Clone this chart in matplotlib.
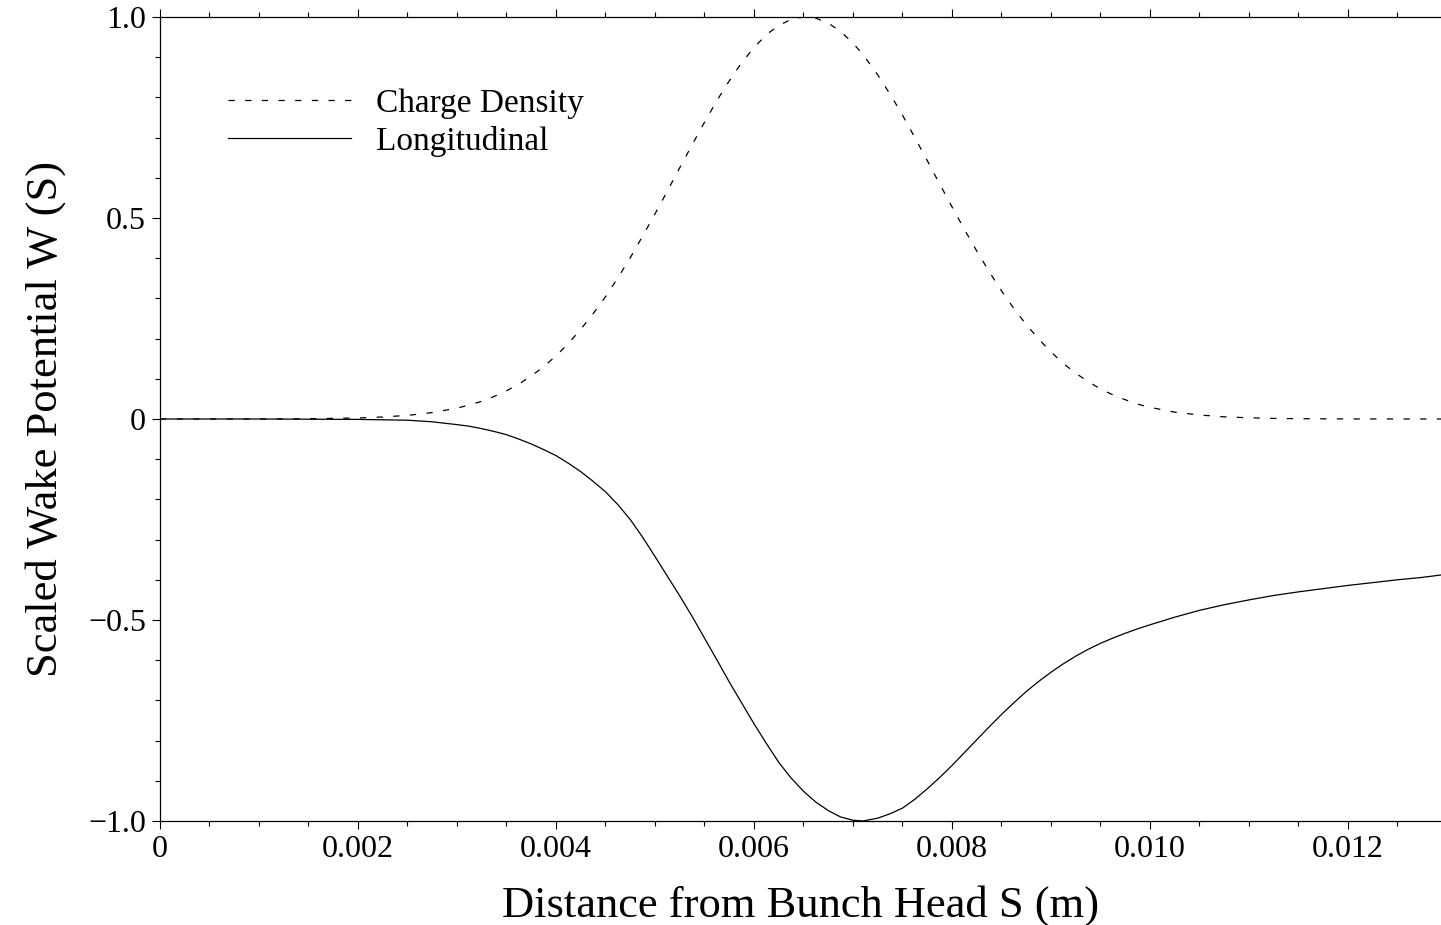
import matplotlib
matplotlib.use("Agg")
import matplotlib.pyplot as plt
from matplotlib.ticker import MultipleLocator

plt.rcParams['font.family'] = ['Liberation Serif', 'DejaVu Serif']
plt.rcParams['lines.scale_dashes'] = False

# distance from bunch head (m)
s = [0.0, 0.0005, 0.001, 0.0015, 0.002, 0.00225, 0.0025, 0.00275,
     0.003, 0.003125, 0.00325, 0.003375, 0.0035, 0.003625, 0.00375, 0.003875,
     0.004, 0.004125, 0.00425, 0.004375, 0.0045, 0.004625, 0.00475, 0.004875,
     0.005, 0.005125, 0.00525, 0.005375, 0.0055, 0.005625, 0.00575, 0.005875,
     0.006, 0.006125, 0.00625, 0.006375, 0.0065, 0.006625, 0.00675, 0.006875,
     0.007, 0.0071, 0.00725, 0.007375, 0.0075, 0.007625, 0.00775, 0.007875,
     0.008, 0.008125, 0.00825, 0.008375, 0.0085, 0.008625, 0.00875, 0.008875,
     0.009, 0.009125, 0.00925, 0.009375, 0.0095, 0.009625, 0.00975, 0.009875,
     0.01, 0.01025, 0.0105, 0.01075, 0.011, 0.01125, 0.0115, 0.01175,
     0.012, 0.01225, 0.0125, 0.01275, 0.01294]

# charge density (dashed)
charge = [0.0, 0.0, 0.0001, 0.0006, 0.0026, 0.005, 0.009, 0.016,
          0.027, 0.035, 0.044, 0.056, 0.070, 0.087, 0.107, 0.130,
          0.157, 0.188, 0.223, 0.262, 0.304, 0.351, 0.401, 0.455,
          0.510, 0.567, 0.625, 0.682, 0.738, 0.792, 0.841, 0.886,
          0.924, 0.956, 0.979, 0.994, 1.0, 0.997, 0.985, 0.964,
          0.935, 0.907, 0.856, 0.808, 0.756, 0.700, 0.643, 0.585,
          0.528, 0.472, 0.418, 0.367, 0.319, 0.275, 0.235, 0.199,
          0.167, 0.138, 0.114, 0.093, 0.075, 0.060, 0.048, 0.037,
          0.029, 0.017, 0.010, 0.0054, 0.003, 0.0015, 0.0008, 0.0004,
          0.0002, 0.0001, 0.0, 0.0, 0.0]

# longitudinal wake (solid)
wake = [0.0, 0.0, 0.0, -0.0005, -0.001, -0.002, -0.003, -0.007,
        -0.014, -0.018, -0.024, -0.031, -0.039, -0.050, -0.062, -0.076,
        -0.091, -0.110, -0.131, -0.155, -0.181, -0.213, -0.250, -0.294,
        -0.342, -0.391, -0.440, -0.491, -0.545, -0.599, -0.654, -0.706,
        -0.758, -0.807, -0.854, -0.893, -0.926, -0.953, -0.974, -0.990,
        -0.998, -1.0, -0.993, -0.982, -0.968, -0.946, -0.920, -0.892,
        -0.862, -0.830, -0.798, -0.766, -0.735, -0.706, -0.678, -0.653,
        -0.630, -0.609, -0.590, -0.573, -0.558, -0.545, -0.533, -0.522,
        -0.512, -0.493, -0.476, -0.462, -0.450, -0.439, -0.430, -0.422,
        -0.414, -0.407, -0.400, -0.394, -0.388]

xticks = [0, 0.002, 0.004, 0.006, 0.008, 0.010, 0.012]
xticklabels = ['0', '0.002', '0.004', '0.006', '0.008', '0.010', '0.012']
yticks = [-1.0, -0.5, 0, 0.5, 1.0]
yticklabels = ['\u22121.0', '\u22120.5', '0', '0.5', '1.0']

fig = plt.figure(figsize=(14.41, 9.25), dpi=100)
ax = fig.add_axes([160 / 1441, 104 / 925, 1281 / 1441, 804 / 925])

ax.plot(s, charge, color='black', lw=0.9, dashes=(4.5, 7.5), label='Charge Density')
ax.plot(s, wake, color='black', lw=0.9, label='Longitudinal')

ax.set_xlim(0, 0.01294)
ax.set_ylim(-1.0, 1.0)
ax.set_xticks(xticks)
ax.set_xticklabels(xticklabels)
ax.set_yticks(yticks)
ax.set_yticklabels(yticklabels)
ax.xaxis.set_minor_locator(MultipleLocator(0.0005))
ax.yaxis.set_minor_locator(MultipleLocator(0.1))

ax.spines['right'].set_visible(False)
for sp in ax.spines.values():
    sp.set_linewidth(0.9)
ax.tick_params(which='both', direction='out', top=True, right=False, width=0.8)
ax.tick_params(which='major', length=6, labelsize=23, pad=4)
ax.tick_params(which='minor', length=3.5)
ax.tick_params(axis='x', which='both', labeltop=False)

ax.set_xlabel('Distance from Bunch Head S (m)', fontsize=32, labelpad=15)
ax.set_ylabel('Scaled Wake Potential W (S)', fontsize=32, labelpad=16)

ax.legend(loc='upper left', bbox_to_anchor=(0.053, 0.911), frameon=False,
          fontsize=24, handlelength=3.7, handletextpad=0.75, labelspacing=0.2,
          borderpad=0, borderaxespad=0)

fig.savefig('out.png', dpi=100)
